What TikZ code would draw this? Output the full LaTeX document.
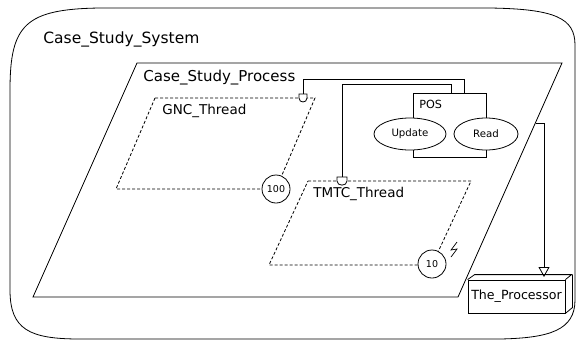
\documentclass[tikz,border=0pt]{standalone}
\usepackage{fontspec}
\setmainfont{DejaVu Sans}
\usetikzlibrary{arrows.meta,shapes.geometric}
\begin{document}
\begin{tikzpicture}[x=1pt,y=-1pt,line width=0.8pt,
  lbl/.style={anchor=west,inner sep=0pt},
  thread/.style={dash pattern=on 3pt off 2pt},
  periodc/.style={circle,draw,fill=white,minimum size=28pt,inner sep=0pt,font=\fontsize{9.5}{10}\selectfont},
  subp/.style={ellipse,draw,fill=white,inner sep=0pt,minimum height=32pt,font=\fontsize{10.2}{11}\selectfont},
  access/.style={fill=white,draw}]
\useasboundingbox (0,0) rectangle (576,341);
% system
\draw (10,90) .. controls (10,25) and (25,9) .. (100,8) -- (490,8)
  .. controls (555,9) and (575,18) .. (575,45) -- (575,300)
  .. controls (575,330) and (550,338) .. (500,339) -- (80,339)
  .. controls (30,339) and (10,330) .. (10,290) -- cycle;
\node[lbl,font=\fontsize{15.5}{16}\selectfont] (sysl) at (43,39) {Case\_Study\_System};
% process
\draw (137,63) -- (562,63) -- (458,297) -- (33,297) -- cycle;
\node[lbl,font=\fontsize{15}{16}\selectfont] (procl) at (143,78) {Case\_Study\_Process};
% threads
\draw[thread] (155,98) -- (315,98) -- (276,189) -- (116,189) -- cycle;
\node[lbl,font=\fontsize{13.5}{14}\selectfont] (gncl) at (162,111) {GNC\_Thread};
\node[periodc] (gncp) at (276,189) {100};
\draw[thread] (308,181) -- (471,181) -- (432,265) -- (269,265) -- cycle;
\node[lbl,font=\fontsize{13.5}{14}\selectfont] (tmtcl) at (313,194) {TMTC\_Thread};
\node[periodc] (tmtcp) at (432,264) {10};
\draw[line width=0.7pt] (457,242) -- (451,250) -- (457,249) -- (451,257);
% data POS
\node[draw,minimum width=73pt,minimum height=64pt,inner sep=0pt] (pos) at (449.5,125) {};
\node[lbl,font=\fontsize{11.2}{12}\selectfont] (posl) at (419,104) {POS};
\node[subp,minimum width=72pt] (upd) at (410,134) {Update};
\node[subp,minimum width=64pt] (rd) at (486,134) {Read};
% access ports
\draw[access] (299,94) -- (307,94) -- (307,98) .. controls (307,103.3) and (299,103.3) .. (299,98) -- cycle;
\coordinate (gncport) at (303,94);
\draw[access] (337,177) -- (347,177) -- (347,181) .. controls (347,186.5) and (337,186.5) .. (337,181) -- cycle;
\coordinate (tmtcport) at (342,177);
\coordinate (posA) at (464,93);
\coordinate (posB) at (451,93);
\draw (gncport) -- ++(0,-15) -| (posA);
\draw (tmtcport) -- ++(0,-93) -| (posB);
% processor
\node[draw,fill=white,minimum width=97pt,minimum height=33pt,inner sep=0pt,font=\fontsize{12.6}{13}\selectfont] (cpu) at (516.5,296.5) {The\_Processor};
\draw (cpu.north west) -- ++(7,-5) -- ++(97,0) -- (cpu.north east);
\draw (cpu.north east) ++(7,-5) -- ++(0,33) -- (cpu.south east);
\coordinate (bind) at (535.5,123);
\coordinate (cputop) at (544,277);
\draw[-{Triangle[open,width=11pt,length=10pt]}] (bind) -| (cputop);
\end{tikzpicture}
\end{document}
